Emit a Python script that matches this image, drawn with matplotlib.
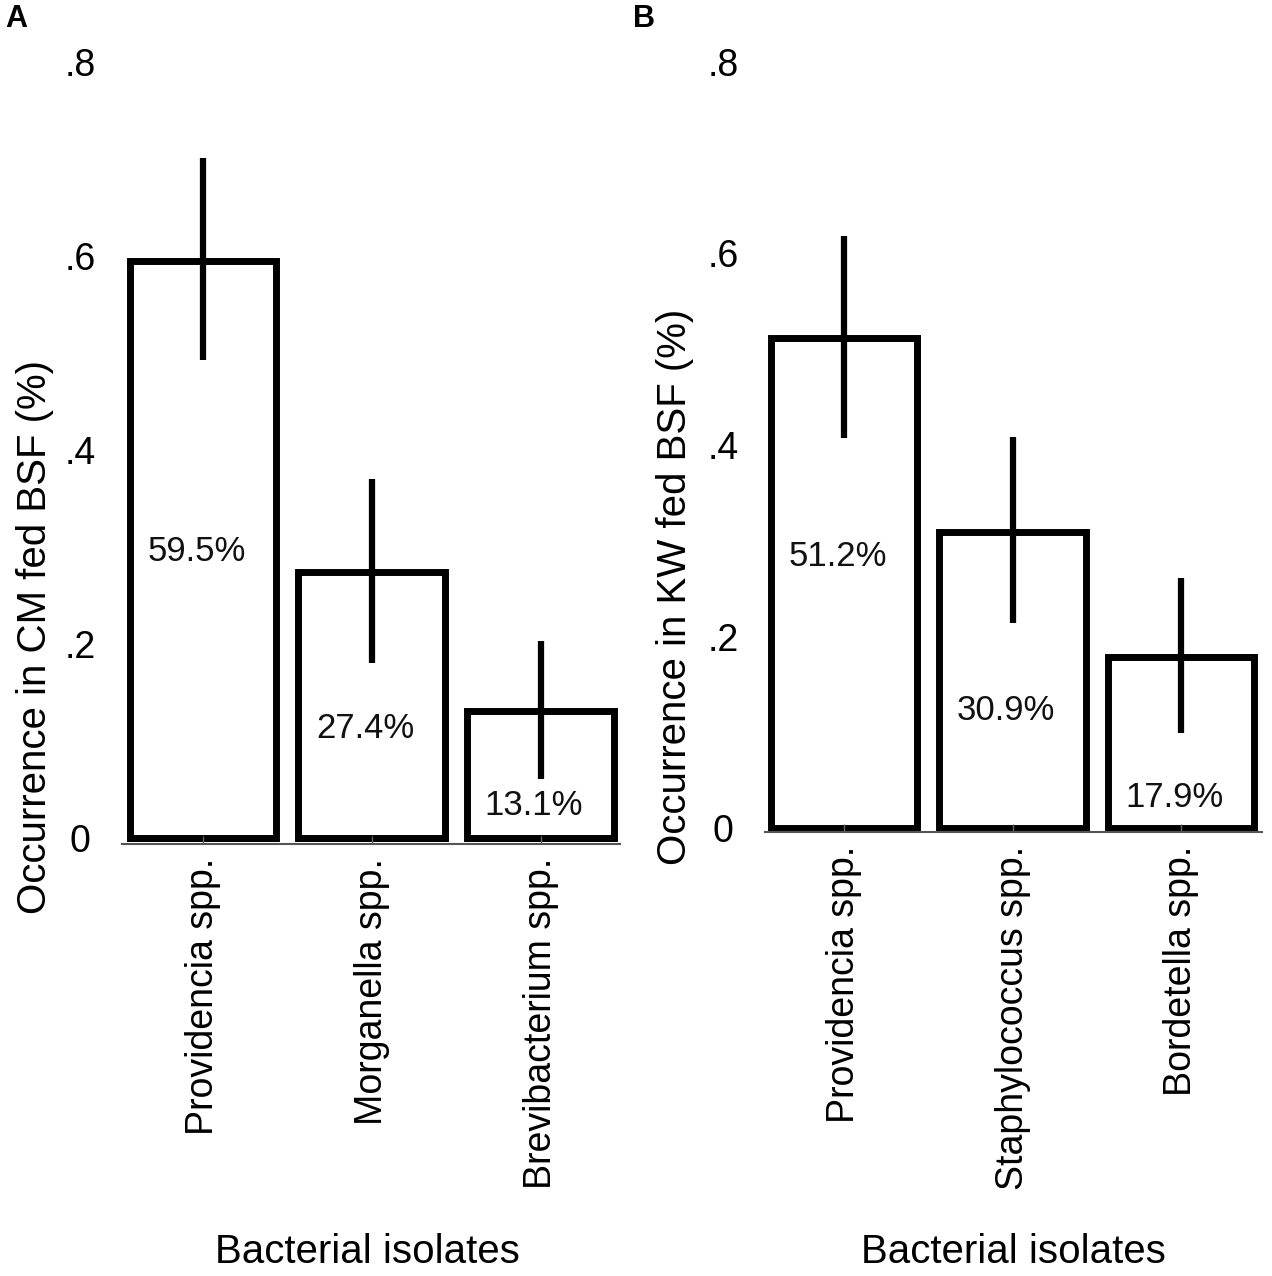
import numpy as np
import matplotlib
matplotlib.use("Agg")
import matplotlib.pyplot as plt

plt.rcParams['font.family'] = ['Liberation Sans', 'DejaVu Sans']

# panel A: chicken manure fed BSF
cm_isolates = ["Providencia spp.", "Morganella spp.", "Brevibacterium spp."]
cm_occ = [0.595, 0.274, 0.131]
cm_lo = [0.493, 0.180, 0.061]
cm_hi = [0.701, 0.370, 0.203]
cm_lab_y = [0.295, 0.113, 0.033]  # where the % labels sit

# panel B: kitchen waste fed BSF
kw_isolates = ["Providencia spp.", "Staphylococcus spp.", "Bordetella spp."]
kw_occ = [0.512, 0.309, 0.179]
kw_lo = [0.407, 0.214, 0.099]
kw_hi = [0.618, 0.408, 0.261]
kw_lab_y = [0.283, 0.123, 0.032]

yticks = [0, 0.2, 0.4, 0.6, 0.8]
ytick_labels = ["0", ".2", ".4", ".6", ".8"]

W, H = 1272, 1276
fig = plt.figure(figsize=(W / 100, H / 100), dpi=100)


def px_axes(left, right, top, bottom):
    return fig.add_axes([left / W, 1 - bottom / H, (right - left) / W, (bottom - top) / H])


def panel(ax, names, occ, lo, hi, lab_y, ylim, xlim):
    x = np.arange(len(names))
    ax.bar(x, occ, width=0.87, color="white", edgecolor="black", linewidth=5)
    ax.vlines(x, lo, hi, color="black", linewidth=4.5)
    for xi, v, ly in zip(x, occ, lab_y):
        ax.text(xi - 0.04, ly, f"{v * 100:.1f}%", ha="center", va="center", fontsize=25, color="#111111")
    ax.set_ylim(*ylim)
    ax.set_xlim(*xlim)
    ax.set_yticks(yticks)
    ax.set_yticklabels(ytick_labels, fontsize=27, ha="center")
    ax.tick_params(axis="y", length=0, pad=30)
    ax.set_xticks(x)
    ax.set_xticklabels(names, rotation=90, fontsize=27, va="top", ha="center")
    ax.tick_params(axis="x", direction="in", length=6, width=1, color="#666666", pad=10)
    for s in ["left", "right", "top"]:
        ax.spines[s].set_visible(False)
    ax.spines["bottom"].set_color("#555555")
    ax.spines["bottom"].set_linewidth(1.5)


axA = px_axes(122, 620, 52, 844)
panel(axA, cm_isolates, cm_occ, cm_lo, cm_hi, cm_lab_y, (-0.0062, 0.81), (-0.48, 2.47))
axB = px_axes(765, 1262, 52, 832)
panel(axB, kw_isolates, kw_occ, kw_lo, kw_hi, kw_lab_y, (-0.004, 0.81), (-0.47, 2.48))

fig.text(35 / W, 1 - 637 / H, "Occurrence in CM fed BSF (%)", rotation=90, ha="center", va="center", fontsize=29)
fig.text(675 / W, 1 - 587 / H, "Occurrence in KW fed BSF (%)", rotation=90, ha="center", va="center", fontsize=29)
fig.text(367 / W, 1 - 1252 / H, "Bacterial isolates", ha="center", va="center", fontsize=29)
fig.text(1013 / W, 1 - 1252 / H, "Bacterial isolates", ha="center", va="center", fontsize=29)

fig.text(5 / W, 1 - 19 / H, "A", fontsize=22, fontweight="bold", ha="left", va="center")
fig.text(633 / W, 1 - 19 / H, "B", fontsize=22, fontweight="bold", ha="left", va="center")

fig.savefig("out.png", dpi=100)
